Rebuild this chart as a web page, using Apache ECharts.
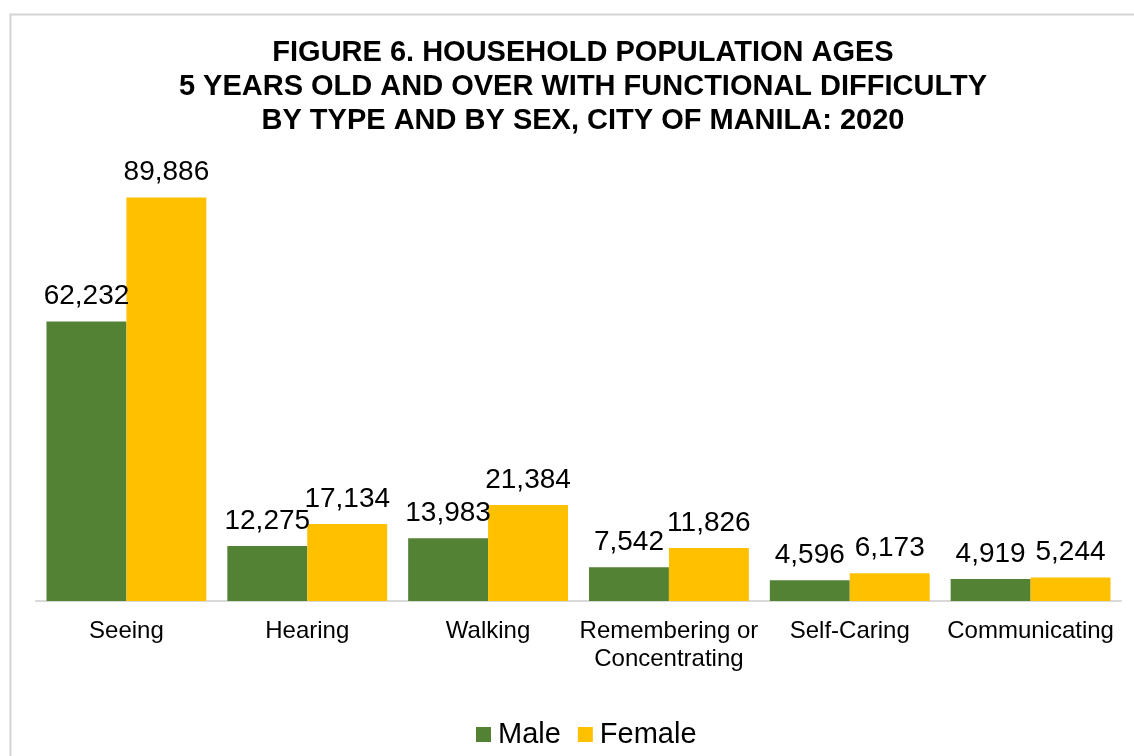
<!DOCTYPE html>
<html>
<head>
<meta charset="utf-8">
<script src="https://cdn.jsdelivr.net/npm/echarts@6/dist/echarts.min.js"></script>
<style>
  html, body { margin: 0; padding: 0; background: #fff; }
  #chart { width: 1134px; height: 756px; }
</style>
</head>
<body>
<div id="chart"></div>
<script>
const categories = ['Seeing', 'Hearing', 'Walking', 'Remembering or\nConcentrating', 'Self-Caring', 'Communicating'];
const maleValues = [62232, 12275, 13983, 7542, 4596, 4919];
const femaleValues = [89886, 17134, 21384, 11826, 6173, 5244];

const chart = echarts.init(document.getElementById('chart'));

const labelStyle = {
  show: true,
  position: 'top',
  distance: 11,
  color: '#000',
  fontSize: 28,
  fontFamily: 'Liberation Sans, Arial, sans-serif',
  formatter: p => p.value.toLocaleString('en-US')
};

const option = {
  backgroundColor: '#fff',
  animation: false,
  graphic: [{
    type: 'rect',
    left: 8,
    top: 12,
    shape: { width: 1200, height: 800 },
    style: { fill: 'none', stroke: '#d4d4d4', lineWidth: 2 }
  }],
  title: {
    text: 'FIGURE 6. HOUSEHOLD POPULATION AGES\n5 YEARS OLD AND OVER WITH FUNCTIONAL DIFFICULTY\nBY TYPE AND BY SEX, CITY OF MANILA: 2020',
    left: 578,
    textAlign: 'center',
    top: 31,
    textStyle: {
      fontFamily: 'Liberation Sans, Arial, sans-serif',
      fontWeight: 'bold',
      fontSize: 29,
      lineHeight: 34,
      color: '#000'
    }
  },
  legend: {
    data: ['Male', 'Female'],
    bottom: 7,
    left: 476,
    padding: 0,
    itemWidth: 15,
    itemHeight: 15,
    itemGap: 17,
    icon: 'rect',
    textStyle: {
      fontFamily: 'Liberation Sans, Arial, sans-serif',
      fontSize: 29,
      color: '#000',
      padding: [0, 0, 0, 2]
    }
  },
  grid: {
    left: 36,
    right: 13,
    top: 152,
    bottom: 155
  },
  xAxis: {
    type: 'category',
    data: categories,
    axisLine: { lineStyle: { color: '#d9d9d9', width: 2 } },
    axisTick: { show: false },
    axisLabel: {
      color: '#000',
      fontSize: 24,
      lineHeight: 28,
      margin: 16,
      fontFamily: 'Liberation Sans, Arial, sans-serif',
      interval: 0
    }
  },
  yAxis: {
    type: 'value',
    min: 0,
    max: 100000,
    show: false,
    splitLine: { show: false }
  },
  series: [
    {
      name: 'Male',
      type: 'bar',
      data: maleValues,
      barGap: '0%',
      barCategoryGap: '11.6%',
      itemStyle: { color: '#548235' },
      label: labelStyle
    },
    {
      name: 'Female',
      type: 'bar',
      data: femaleValues,
      itemStyle: { color: '#FFC000' },
      label: labelStyle
    }
  ]
};

chart.setOption(option);
</script>
</body>
</html>
